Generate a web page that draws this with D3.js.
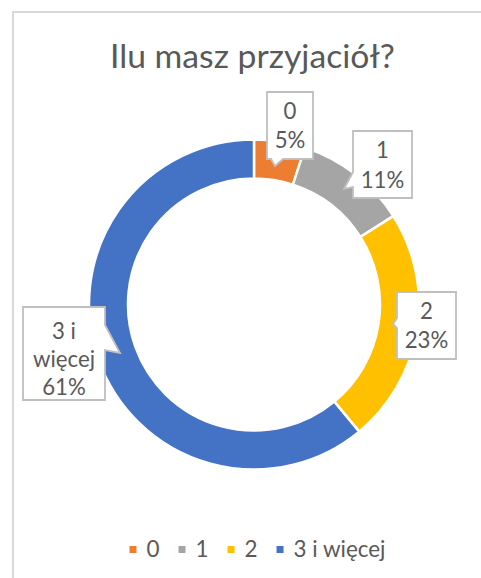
<!DOCTYPE html>
<html>
<head>
<meta charset="utf-8">
<script src="https://cdn.jsdelivr.net/npm/d3@7"></script>
<style>
  html, body { margin: 0; padding: 0; background: #fff; }
  svg { display: block; }
</style>
</head>
<body>
<svg id="chart" width="481" height="578"></svg>
<script>
// ---- data ----
const title = "Ilu masz przyjaciół?";
const categories = ["0", "1", "2", "3 i więcej"];
const values = [5, 11, 23, 61];
const colors = ["#ED7D31", "#A5A5A5", "#FFC000", "#4472C4"];
const labelCategoryLines = [["0"], ["1"], ["2"], ["3 i", "więcej"]];

// ---- layout ----
const W = 481, H = 578;
const FONT = "Lato, 'Open Sans', 'DejaVu Sans', sans-serif";
const TEXT = "#595959";
const cx = 254, cy = 304.5, rOuter = 165, rInner = 126;

// callout boxes (manual layout, like the dragged Excel labels)
const callouts = [
  { x: 267, y: 92,  w: 46, h: 67, side: "bottom", b0: 271, b1: 283, tx: 275, ty: 166, baselines: [119, 148] },
  { x: 353, y: 131, w: 59, h: 67, side: "left",   b0: 172, b1: 187, tx: 344, ty: 189, baselines: [158, 188] },
  { x: 397, y: 292, w: 59, h: 67, side: "left",   b0: 318, b1: 328, tx: 393, ty: 324, baselines: [319, 348] },
  { x: 23,  y: 307, w: 82, h: 93, side: "right",  b0: 325, b1: 350, tx: 120, ty: 353, baselines: [339, 367, 395] }
];

const svg = d3.select("#chart");

// font fitting helper
function fitSize(text, target, family) {
  const t = svg.append("text").attr("font-family", family).attr("font-size", 100).text(text);
  const w = t.node().getComputedTextLength();
  t.remove();
  return 100 * target / w;
}

// chart border (extends past right/bottom edges)
svg.append("rect")
  .attr("x", 13).attr("y", 12)
  .attr("width", W + 20).attr("height", H + 20)
  .attr("fill", "#fff")
  .attr("stroke", "#d9d9d9").attr("stroke-width", 2);

// title
const titleSize = fitSize(title, 285, FONT);
svg.append("text")
  .attr("x", 252.5).attr("y", 68)
  .attr("text-anchor", "middle")
  .attr("font-family", FONT).attr("font-size", titleSize)
  .attr("fill", TEXT)
  .text(title);

// donut
const pie = d3.pie().sort(null).value(d => d)(values);
const arc = d3.arc().innerRadius(rInner).outerRadius(rOuter);
const color = d3.scaleOrdinal().domain(categories).range(colors);

svg.append("g")
  .attr("transform", `translate(${cx},${cy})`)
  .selectAll("path")
  .data(pie)
  .join("path")
  .attr("d", arc)
  .attr("fill", (d, i) => color(categories[i]))
  .attr("stroke", "#fff")
  .attr("stroke-width", 2.5)
  .attr("stroke-linejoin", "miter");

// callout labels
const total = d3.sum(values);
const pct = d3.format(".0%");
const labelSize = fitSize("więcej", 62, FONT);

function calloutPath(b) {
  const { x, y, w, h, side, b0, b1, tx, ty } = b;
  let p = `M${x},${y}L${x + w},${y}`;
  if (side === "right") p += `L${x + w},${b0}L${tx},${ty}L${x + w},${b1}`;
  p += `L${x + w},${y + h}`;
  if (side === "bottom") p += `L${b1},${y + h}L${tx},${ty}L${b0},${y + h}`;
  p += `L${x},${y + h}`;
  if (side === "left") p += `L${x},${b1}L${tx},${ty}L${x},${b0}`;
  return p + "Z";
}

const lg = svg.append("g");
callouts.forEach((b, i) => {
  lg.append("path")
    .attr("d", calloutPath(b))
    .attr("fill", "#fff")
    .attr("stroke", "#bfbfbf")
    .attr("stroke-width", 1.8)
    .attr("stroke-linejoin", "miter");
  const lines = labelCategoryLines[i].concat([pct(values[i] / total)]);
  lines.forEach((ln, j) => {
    lg.append("text")
      .attr("x", b.x + b.w / 2).attr("y", b.baselines[j])
      .attr("text-anchor", "middle")
      .attr("font-family", FONT).attr("font-size", labelSize)
      .attr("fill", TEXT)
      .text(ln);
  });
});

// legend
const legendSize = fitSize("3 i więcej", 92, FONT);
const leg = svg.append("g");
let lx = 0;
const items = [];
categories.forEach((c, i) => {
  const t = leg.append("text")
    .attr("font-family", FONT).attr("font-size", legendSize)
    .attr("fill", TEXT).text(c);
  const tw = t.node().getComputedTextLength();
  items.push({ t, x: lx, i });
  lx += 7 + 10 + tw + (i < categories.length - 1 ? 19 : 0);
});
const legendStart = 257.5 - lx / 2;
items.forEach(({ t, x, i }) => {
  leg.append("rect")
    .attr("x", legendStart + x).attr("y", 546)
    .attr("width", 7).attr("height", 7)
    .attr("fill", color(categories[i]));
  t.attr("x", legendStart + x + 17).attr("y", 557);
});
</script>
</body>
</html>
